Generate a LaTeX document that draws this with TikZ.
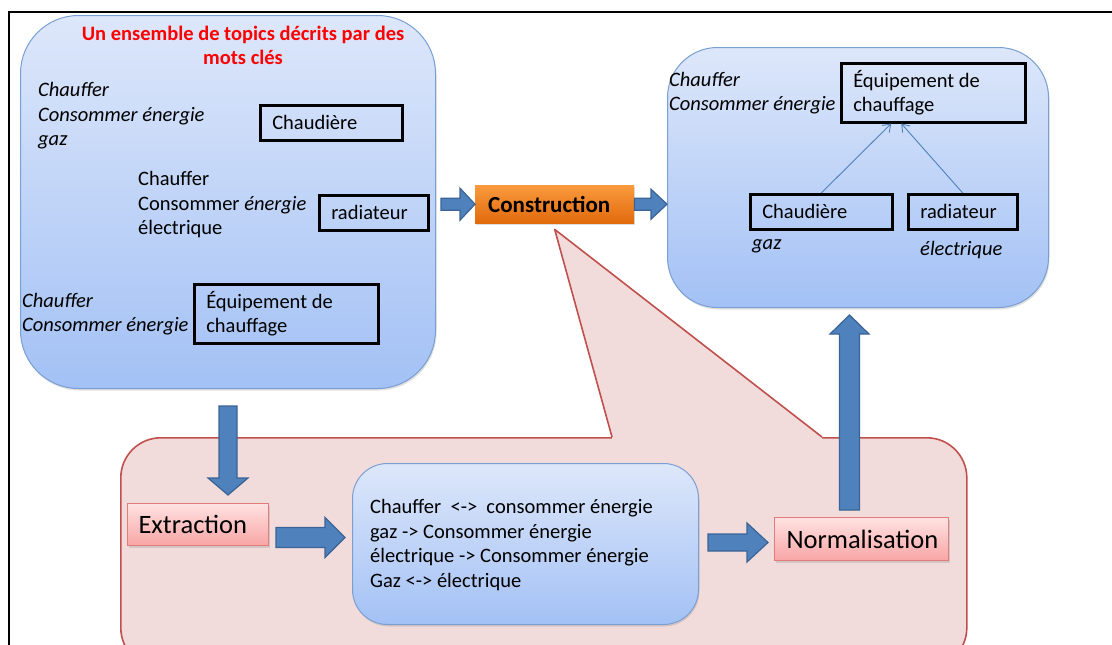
\documentclass[tikz,border=0pt]{standalone}
\usepackage{fontspec}
\setmainfont{Carlito}
\usetikzlibrary{calc,shadows,arrows.meta}
\definecolor{bluetop}{HTML}{DDE7FA}
\definecolor{bluebot}{HTML}{A3C1F5}
\definecolor{blueborder}{HTML}{7A9FD3}
\definecolor{arrowfill}{HTML}{4F81BD}
\definecolor{arrowdraw}{HTML}{3A6396}
\definecolor{callfill}{HTML}{F2DCDB}
\definecolor{callborder}{HTML}{C0504D}
\definecolor{pinktop}{HTML}{FFE2E2}
\definecolor{pinkbot}{HTML}{F9A5A5}
\definecolor{pinkborder}{HTML}{E07C7A}
\definecolor{orangetop}{HTML}{FA9A3E}
\definecolor{orangebot}{HTML}{E06A0C}
\definecolor{titlered}{HTML}{FF0000}
\newcommand\bodyfont{\fontsize{20.5}{24.5}\selectfont}
% block arrow: #1 from, #2 to, #3 half shaft, #4 half head, #5 head length
\newcommand\barrow[5]{%
  \draw[blockarrow] let \p1=#1, \p2=#2,
    \n1={atan2(\y2-\y1,\x2-\x1)}, \n2={veclen(\x2-\x1,\y2-\y1)} in
    [shift={(\p1)}, rotate=\n1]
    (0,#3) -- ({\n2-#5},#3) -- ({\n2-#5},#4) -- (\n2,0) --
    ({\n2-#5},-#4) -- ({\n2-#5},-#3) -- (0,-#3) -- cycle;}
\begin{document}
\begin{tikzpicture}[x=1pt,y=-1pt,
  shadowed/.style={drop shadow={opacity=0.25, shadow xshift=1pt, shadow yshift=-2pt}},
  bluebox/.style={draw=blueborder, line width=1pt, top color=bluetop, bottom color=bluebot,
    anchor=north west, inner sep=0pt, shadowed},
  callbox/.style={draw=callborder, line width=1.6pt, fill=callfill, anchor=north west,
    inner sep=0pt, rounded corners=40pt},
  txt/.style={anchor=west, inner sep=0pt, align=flush left, font=\bodyfont},
  itxt/.style={txt, font=\bodyfont\itshape},
  kbox/.style={draw=black, line width=2.5pt, anchor=north west, inner xsep=12pt,
    inner ysep=0pt, align=flush left, font=\bodyfont},
  pinkbox/.style={draw=pinkborder, line width=1pt, top color=pinktop, bottom color=pinkbot,
    anchor=north west, inner ysep=0pt, inner xsep=11pt, align=flush left,
    font=\fontsize{26.5}{30}\selectfont, shadowed},
  consbox/.style={top color=orangetop, bottom color=orangebot, anchor=north west,
    inner ysep=0pt, inner xsep=13pt, align=flush left, font=\fontsize{23}{26}\selectfont\bfseries, shadowed},
  blockarrow/.style={fill=arrowfill, draw=arrowdraw, line width=1.2pt, line join=miter},
  thinarrow/.style={draw=arrowfill, line width=0.9pt, -{Straight Barb[length=7pt,width=10pt]}}
]
\useasboundingbox (0,0) rectangle (1112,645);
\clip (0,0) rectangle (1112,645);
\fill[white] (0,0) rectangle (1112,645);
\draw[line width=2pt] (9,660) -- (9,12) -- (1120,12);

% callout region
\node[callbox, minimum width=846, minimum height=230] (call) at (120,437) {};

% top-left box
\node[bluebox, minimum width=415, minimum height=373, rounded corners=58pt] (TL) at (20,15) {};
\node[font=\fontsize{20.5}{24}\selectfont\bfseries, text=titlered, align=center, inner sep=0pt]
  (title) at (243,45) {Un ensemble de topics décrits par des\\mots clés};
\node[itxt] (t1) at (38,116) {Chauffer\\Consommer énergie\\gaz};
\node[kbox, text width=118, minimum height=35] (b1) at (259,104) {Chaudière};
\node[txt] (t2) at (138,205) {Chauffer\\Consommer \textit{énergie}\\électrique};
\node[kbox, text width=85, minimum height=35] (b2) at (318,194) {radiateur};
\node[itxt] (t3) at (22,314) {Chauffer\\Consommer énergie};
\node[kbox, text width=160, minimum height=59] (b3) at (193,283) {Équipement de\\chauffage};

% construction
\node[consbox, text width=133, minimum height=38] (cons) at (475,185) {Construction};

% right box
\node[bluebox, minimum width=381, minimum height=260, rounded corners=50pt] (R) at (667,47) {};
\node[itxt] (t4) at (669,93) {Chauffer\\Consommer énergie};
\node[kbox, text width=160, minimum height=59] (b4) at (840,62) {Équipement de\\chauffage};
\node[kbox, text width=118, minimum height=35] (b5) at (749,193) {Chaudière};
\node[kbox, text width=85, minimum height=35] (b6) at (907,193) {radiateur};
\node[itxt] (t5) at (752,246) {gaz};
\node[itxt] (t6) at (920,250) {électrique};
\draw[thinarrow] (b5.north) -- ($(b4.south)+(-42,0)$);
\draw[thinarrow] (b6.north) -- ($(b4.south)+(-32,0)$);

% callout wedge
\coordinate (tip) at ($(cons.south)+(0,6)$);
\coordinate (wl) at ($(call.north west)+(492,0)$);
\coordinate (wr) at ($(call.north west)+(702,0)$);
\fill[callfill] (wl) -- (tip) -- (wr) -- ($(wr)+(0,3)$) -- ($(wl)+(0,3)$) -- cycle;
\draw[callborder, line width=1.6pt, line join=round] (wl) -- (tip) -- (wr);

% inner boxes
\node[pinkbox, text width=119, minimum height=42] (ext) at (127,503) {Extraction};
\node[bluebox, minimum width=346, minimum height=161, rounded corners=35pt] (mid) at (352,463) {};
\node[txt] (mt) at (370,545)
  {Chauffer\ \ <->\ \ consommer énergie\\gaz -> Consommer énergie\\électrique -> Consommer énergie\\Gaz <-> électrique};
\node[pinkbox, text width=150, inner xsep=12pt, minimum height=43] (norm) at (774,517) {Normalisation};

% block arrows
\barrow{($(cons.west)+(-34,0)$)}{(cons.west)}{6}{16}{15}
\barrow{(cons.east)}{(cons.east -| R.west)}{6}{15}{16}
\barrow{($(TL.south)+(0,17)$)}{($(TL.south |- ext.north)+(0,-8)$)}{9}{20}{17}
\barrow{($(ext.east)+(7,13)$)}{($(mid.west)+(-7,-6.5)$)}{10}{20}{20}
\barrow{($(mid.east)+(9,-1.5)$)}{($(norm.west)+(-6,3.5)$)}{8.5}{19.5}{21}
\barrow{($(norm.north)+(-12,-7)$)}{($(R.south)+(-8.5,7)$)}{10}{19.5}{19}
\end{tikzpicture}
\end{document}
